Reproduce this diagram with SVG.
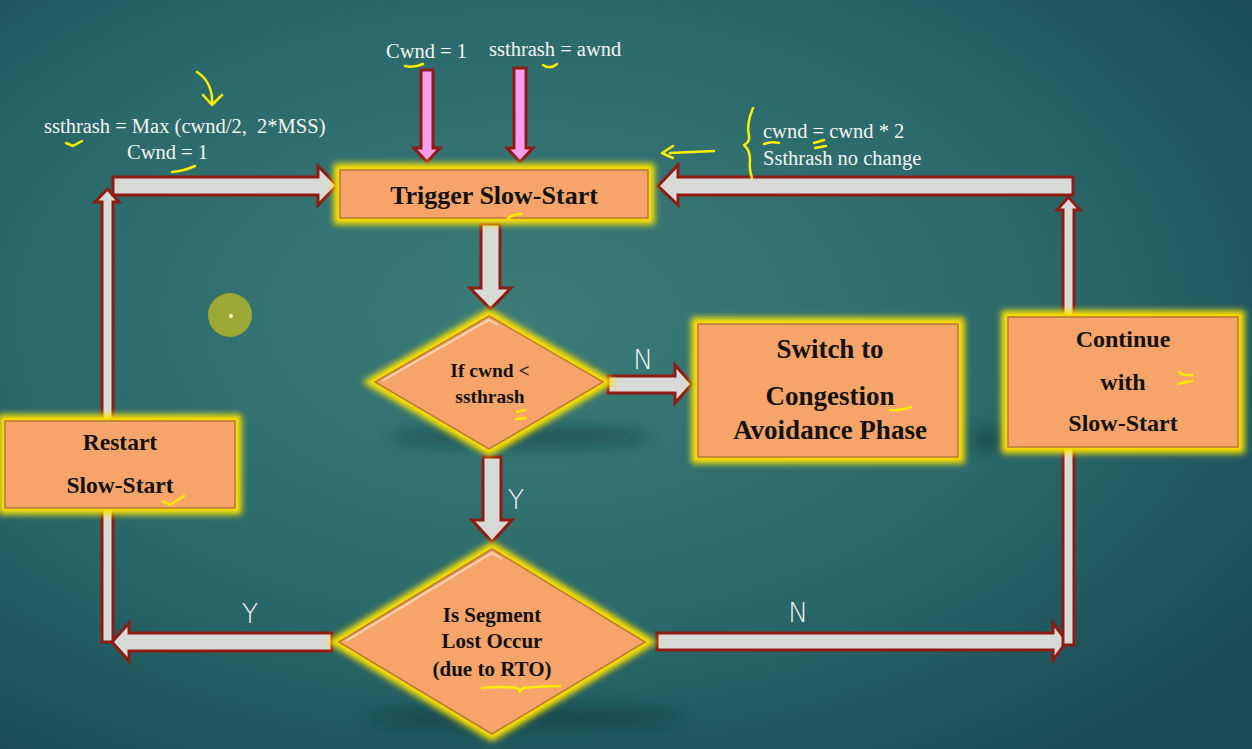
<svg xmlns="http://www.w3.org/2000/svg" width="1252" height="749" viewBox="0 0 1252 749">
<defs>
<radialGradient id="bg" cx="42%" cy="42%" r="75%">
<stop offset="0" stop-color="#3b7c77"/>
<stop offset="0.55" stop-color="#2b696a"/>
<stop offset="1" stop-color="#184a54"/>
</radialGradient>
<filter id="glow" x="-20%" y="-30%" width="140%" height="160%">
<feGaussianBlur stdDeviation="3"/>
</filter>
<filter id="shadow" x="-30%" y="-100%" width="160%" height="300%">
<feGaussianBlur stdDeviation="8"/>
</filter>
<style>
.arr{fill:#d8dad7;stroke:#8e1c12;stroke-width:3;stroke-linejoin:miter}
.pink{fill:#f99cee;stroke:#8e1c12;stroke-width:3}
.box{fill:#f7a46b;stroke:#b97a3c;stroke-width:1.5}
.halo{fill:none;stroke:#ffe400;stroke-width:13;filter:url(#glow)}
.halo2{fill:none;stroke:#f5d800;stroke-width:5}
.bt{font-family:"Liberation Serif",serif;font-weight:bold;fill:#121212;text-anchor:middle}
.wt{font-family:"Liberation Serif",serif;fill:#f4f4f0;font-size:20.5px;white-space:pre}
.lbl{font-family:"DejaVu Sans","Liberation Sans",sans-serif;font-weight:200;fill:#f4f4f4;font-size:27px;text-anchor:middle}
.yl{fill:none;stroke:#ffee00;stroke-width:2.5;stroke-linecap:round;stroke-linejoin:round}
.shd{fill:#0e3a3e;opacity:0.55;filter:url(#shadow)}
</style>
</defs>
<rect width="1252" height="749" fill="url(#bg)"/>

<g id="shadows">
<ellipse class="shd" cx="520" cy="437" rx="130" ry="10"/>
<ellipse class="shd" cx="525" cy="718" rx="160" ry="12"/>
<ellipse class="shd" cx="990" cy="440" rx="20" ry="12"/>
</g>

<g id="connectors">
<polygon class="arr" points="102,642 113,642 113,202 119,202 107.5,189 95,202 102,202"/>
<polygon class="arr" points="113,177 318,177 318,166 337,185.5 318,205 318,195 113,195"/>
<polygon class="arr" points="332,633 129,633 129,623 112,642 129,661 129,651 332,651"/>
<polygon class="arr" points="657,633 1053,633 1053,623 1067,641.5 1053,660 1053,650 657,650"/>
<polygon class="arr" points="1063,645 1074,645 1074,210 1080,210 1068.5,197 1057,210 1063,210"/>
<polygon class="arr" points="1073,177 678,177 678,165 658,186 678,205 678,195 1073,195"/>
<polygon class="arr" points="481,224 500,224 500,288 511,288 490.5,309 470,288 481,288"/>
<polygon class="arr" points="483,457 501,457 501,520 512,520 492,542 472,520 483,520"/>
<polygon class="arr" points="608,376 675,376 675,365 692,384 675,403 675,393 608,393"/>
<polygon class="pink" points="421,70 433,70 433,148 440,148 427,162 414,148 421,148"/>
<polygon class="pink" points="514,68 526,68 526,148 533,148 520,162 507,148 514,148"/>
<text class="lbl" x="643" y="369">N</text>
<text class="lbl" x="516" y="509">Y</text>
<text class="lbl" x="250" y="623">Y</text>
<text class="lbl" x="798" y="622">N</text>
</g>

<g id="trigger">
<rect class="halo" x="340" y="170" width="308" height="48"/>
<rect class="halo2" x="340" y="170" width="308" height="48"/>
<rect class="box" x="340" y="170" width="308" height="48"/>
<text class="bt" x="494" y="204" font-size="26">Trigger Slow-Start</text>
</g>

<g id="decision-cwnd">
<polygon class="halo" points="489,316 603,382 489,449 375,382"/>
<polygon class="halo2" points="489,316 603,382 489,449 375,382"/>
<polygon class="box" points="489,316 603,382 489,449 375,382"/>
<polyline points="382,381 489,320 498,325" fill="none" stroke="#ffe3c8" stroke-width="2" opacity="0.8"/>
<text class="bt" x="490" y="377" font-size="19.5">If cwnd &lt;</text>
<text class="bt" x="490" y="403" font-size="19.5">ssthrash</text>
</g>

<g id="switch-ca">
<rect class="halo" x="698" y="324" width="260" height="133"/>
<rect class="halo2" x="698" y="324" width="260" height="133"/>
<rect class="box" x="698" y="324" width="260" height="133"/>
<text class="bt" x="830" y="358" font-size="27">Switch to</text>
<text class="bt" x="830" y="405" font-size="27">Congestion</text>
<text class="bt" x="830" y="439" font-size="27">Avoidance Phase</text>
</g>

<g id="continue-ss">
<rect class="halo" x="1008" y="317" width="230" height="130"/>
<rect class="halo2" x="1008" y="317" width="230" height="130"/>
<rect class="box" x="1008" y="317" width="230" height="130"/>
<text class="bt" x="1123" y="347" font-size="24">Continue</text>
<text class="bt" x="1123" y="390" font-size="24">with</text>
<text class="bt" x="1123" y="431" font-size="24">Slow-Start</text>
</g>

<g id="restart-ss">
<rect class="halo" x="5" y="421" width="230" height="87"/>
<rect class="halo2" x="5" y="421" width="230" height="87"/>
<rect class="box" x="5" y="421" width="230" height="87"/>
<text class="bt" x="120" y="450" font-size="23.5">Restart</text>
<text class="bt" x="120" y="493" font-size="23.5">Slow-Start</text>
</g>

<g id="decision-loss">
<polygon class="halo" points="492,549 645,642 492,734 339,642"/>
<polygon class="halo2" points="492,549 645,642 492,734 339,642"/>
<polygon class="box" points="492,549 645,642 492,734 339,642"/>
<polyline points="346,641 492,553 502,559" fill="none" stroke="#ffe3c8" stroke-width="2" opacity="0.8"/>
<text class="bt" x="492" y="622" font-size="21">Is Segment</text>
<text class="bt" x="492" y="648" font-size="21">Lost Occur</text>
<text class="bt" x="492" y="676" font-size="21">(due to RTO)</text>
</g>

<g id="notes">
<text class="wt" x="386" y="58">Cwnd = 1</text>
<text class="wt" x="489" y="56">ssthrash = awnd</text>
<text class="wt" x="44" y="133" xml:space="preserve">ssthrash = Max (cwnd/2,  2*MSS)</text>
<text class="wt" x="127" y="159">Cwnd = 1</text>
<text class="wt" x="763" y="138">cwnd = cwnd * 2</text>
<text class="wt" x="763" y="165">Ssthrash no change</text>
</g>

<g id="ink">
<path class="yl" d="M197,72 C207,78 213,90 212,104 M203,95 L212,105 L222,95"/>
<path class="yl" d="M66,143 L73,146 L82,141"/>
<path class="yl" d="M172,172 Q184,171 195,166"/>
<path class="yl" d="M405,66 Q414,68 423,64"/>
<path class="yl" d="M543,65 Q550,70 557,64"/>
<path class="yl" d="M508,218 Q514,214 521,214"/>
<path class="yl" d="M517,412 L525,410 M516,419 L526,418"/>
<path class="yl" d="M890,410 Q900,411 911,407"/>
<path class="yl" d="M1179,372 Q1184,376 1192,375 M1178,384 L1192,381"/>
<path class="yl" d="M163,501 L170,505 L184,496"/>
<path class="yl" d="M482,688 Q500,686 518,688 L520,692 L523,688 Q542,686 560,686"/>
<path class="yl" d="M753,108 Q746,124 749,136 Q750,142 744,145 Q750,150 750,160 Q749,170 752,178"/>
<path class="yl" d="M670,153 L714,151 M673,146 L662,153 L673,158"/>
<path class="yl" d="M764,144 Q771,141 779,143"/>
<path class="yl" d="M814,143 L824,140 M815,148 L826,146"/>
</g>

<g id="pointer">
<circle cx="230" cy="315" r="22" fill="#a9af2f" opacity="0.9"/>
<circle cx="231" cy="316" r="2" fill="#fff7c0"/>
</g>
</svg>
